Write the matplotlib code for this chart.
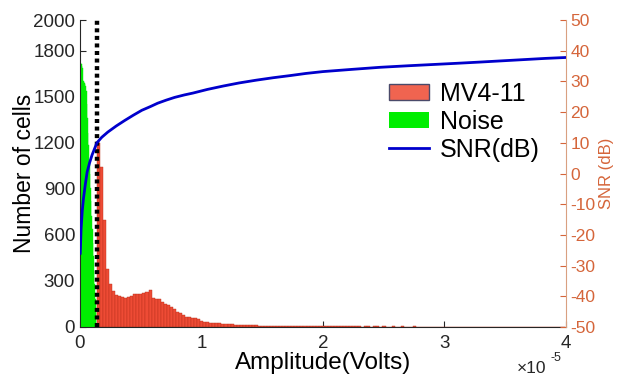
import numpy as np
import matplotlib
matplotlib.use("Agg")
import matplotlib.pyplot as plt
from matplotlib.patches import Patch
from matplotlib.lines import Line2D

plt.rcParams["font.family"] = ["Liberation Sans", "DejaVu Sans"]
plt.rcParams["axes.unicode_minus"] = False

# amplitudes are in units of 1e-5 V
noise_start = 0.0
noise_width = 0.005
noise_counts = [1720, 1720, 1712, 1700, 1690, 1600, 1596, 1590, 1582, 1570,
                1540, 1455, 1360, 1265, 1185, 1090, 1000, 905, 820, 725,
                640, 545, 460, 365, 280, 185, 100]

cell_start = 0.14
cell_width = 0.025
cell_counts = [
    1200, 1040, 700, 380, 280, 235, 208, 200, 195, 190,
    195, 205, 212, 215, 215, 220, 225, 238, 190, 185,
    180, 165, 150, 140, 128, 118, 100, 88, 75, 66,
    62, 60, 58, 50, 40, 33, 30, 28, 27, 25,
    24, 22, 21, 20, 18, 16, 15, 14, 13, 12,
    11, 10, 10, 9, 9, 8, 9, 8, 7, 8, 7, 7, 6, 7, 6, 6, 7, 6, 5, 6, 5, 6, 5, 5,
    5, 6, 5, 4, 5, 5, 4, 5, 4, 4, 5, 4, 4, 3, 4, 4, 3, 4, 4, 3,
    4, 3, 3, 4, 3, 3, 4, 3, 3, 3, 4, 3, 3, 2, 3, 3, 2, 3, 3, 2,
    3, 2, 3, 2, 2, 3, 2, 2, 3, 2, 2, 2, 3, 2, 2, 2, 2, 3, 2, 2,
    2, 2, 2, 3, 2, 2, 2, 2, 2, 2, 2, 2, 2, 1, 2, 2, 2, 2, 2, 2,
]

snr_amp = [0.003, 0.01, 0.02, 0.03, 0.045, 0.06, 0.08, 0.1, 0.123, 0.14,
           0.18, 0.23, 0.3, 0.37, 0.44, 0.51, 0.58, 0.64, 0.71, 0.78,
           0.86, 0.93, 1.05, 1.18, 1.31, 1.45, 1.59, 1.73, 1.86, 2.0,
           2.23, 2.47, 2.7, 2.9, 3.1, 3.29, 3.47, 3.65, 3.83, 4.0]
snr_db = [-26, -18, -12, -8, -3.5, 0.5, 3.5, 6, 8.3, 10,
          11.8, 13.5, 15.5, 17.3, 19, 20.6, 21.8, 22.9, 23.9, 24.8,
          25.6, 26.2, 27.4, 28.5, 29.5, 30.4, 31.2, 31.9, 32.6, 33.2,
          33.9, 34.6, 35.1, 35.5, 35.9, 36.3, 36.7, 37.1, 37.5, 37.8]

threshold = 0.14

left_ticks = [0, 300, 600, 900, 1200, 1500, 1800, 2000]
right_ticks = [-50, -40, -30, -20, -10, 0, 10, 20, 30, 40, 50]
x_ticks = [0, 1, 2, 3, 4]

axis_dark = "#262626"
snr_color = "#D5653A"
snr_spine = "#D9A080"

fig = plt.figure(figsize=(6.24, 3.78), dpi=100)
ax = fig.add_axes([0.128, 0.135, 0.779, 0.812])

noise_left = noise_start + noise_width * np.arange(len(noise_counts))
ax.bar(noise_left, noise_counts, width=noise_width, align="edge",
       color="#00EE00", edgecolor="#00EE00", linewidth=0.3, zorder=2)

cell_left = cell_start + cell_width * np.arange(len(cell_counts))
ax.bar(cell_left, cell_counts, width=cell_width, align="edge",
       color="#EE4B35", edgecolor="#B8301C", linewidth=0.3, zorder=2)

ax.axvline(threshold, color="black", linestyle=(0, (0.9, 0.8)), linewidth=3.2, zorder=3)

ax.set_xlim(0, 4)
ax.set_ylim(0, 2000)
ax.set_xticks(x_ticks)
ax.set_yticks(left_ticks)
ax.tick_params(direction="in", length=4, width=0.8, colors=axis_dark, labelsize=13.5)
ax.tick_params(axis="x", pad=6)
for side in ["top", "right"]:
    ax.spines[side].set_visible(False)
ax.spines["left"].set_color(axis_dark)
ax.spines["bottom"].set_color(axis_dark)
ax.set_xlabel("Amplitude(Volts)", fontsize=17.5, labelpad=0)
ax.set_ylabel("Number of cells", fontsize=16.5, labelpad=-2)

ax2 = ax.twinx()
ax2.plot(snr_amp, snr_db, color="#0000CC", linewidth=2, zorder=4)
ax2.set_ylim(-50, 50)
ax2.set_yticks(right_ticks)
ax2.tick_params(direction="in", length=4, width=0.8, colors=snr_color, labelsize=12.5, pad=3)
for side in ["top", "left", "bottom"]:
    ax2.spines[side].set_visible(False)
ax2.spines["right"].set_color(snr_spine)
ax2.set_ylabel("SNR (dB)", color=snr_color, fontsize=12, labelpad=3)

handles = [
    Patch(facecolor="#F06450", edgecolor="#4A4A6A", linewidth=1.0),
    Patch(facecolor="#00EE00", edgecolor="none"),
    Line2D([0], [0], color="#0000CC", linewidth=2),
]
ax2.legend(handles, ["MV4-11", "Noise", "SNR(dB)"], loc="upper left",
           bbox_to_anchor=(0.615, 0.83), frameon=False, fontsize=18,
           handlelength=1.6, handleheight=0.6, labelspacing=0.15,
           handletextpad=0.45, borderaxespad=0)

fig.text(0.828, 0.004, "\u00d710", ha="left", va="bottom", fontsize=12.5, color=axis_dark)
fig.text(0.828 + 0.054, 0.036, "-5", ha="left", va="bottom", fontsize=9, color=axis_dark)

fig.savefig("out.png", dpi=100)
